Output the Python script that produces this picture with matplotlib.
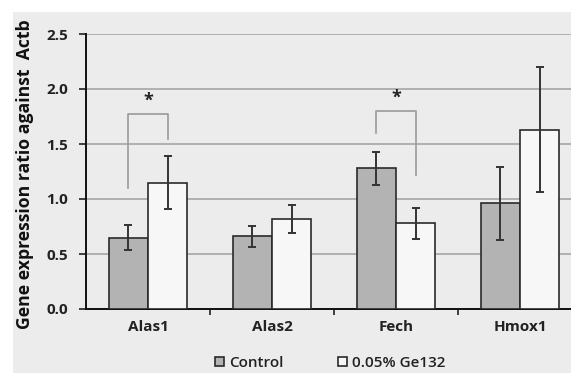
import matplotlib.pyplot as plt
import matplotlib.patches as mpatches
import numpy as np

plt.rcParams['font.family'] = ['Open Sans', 'DejaVu Sans']

genes = ['Alas1', 'Alas2', 'Fech', 'Hmox1']
control = [0.65, 0.66, 1.28, 0.96]
control_err = [0.11, 0.095, 0.15, 0.33]
ge132 = [1.15, 0.82, 0.78, 1.63]
ge132_err = [0.24, 0.125, 0.14, 0.57]

# significance brackets: (gene index, left leg bottom, top, right leg bottom)
brackets = [(0, 1.10, 1.77, 1.55), (2, 1.60, 1.80, 1.22)]

W, H = 571, 373
fig = plt.figure(figsize=(W / 100, H / 100), dpi=100)
fig.patches.append(mpatches.Rectangle((13 / W, 0), 1, 1 - 12 / H,
                                      transform=fig.transFigure,
                                      facecolor='#ececec', edgecolor='none', zorder=-10))

ax = fig.add_axes([86 / W, (H - 309) / H, 496 / W, 275 / H])
ax.set_facecolor('none')

x = np.arange(len(genes)) + 0.5
w = 0.315
ebar = dict(ecolor='#333333', elinewidth=1.4, capsize=3, capthick=1.4)
ax.bar(x - w / 2, control, w, yerr=control_err, color='#b3b3b3',
       edgecolor='#2a2a2a', linewidth=1.2, error_kw=ebar, label='Control', zorder=3)
ax.bar(x + w / 2, ge132, w, yerr=ge132_err, color='#f7f7f7',
       edgecolor='#2a2a2a', linewidth=1.2, error_kw=ebar, label='0.05% Ge132', zorder=3)

for i, lo_l, top, lo_r in brackets:
    xl, xr = x[i] - w / 2, x[i] + w / 2
    ax.plot([xl, xl, xr, xr], [lo_l, top, top, lo_r], color='#9a9a9a', lw=1.2, zorder=2)
    ax.text(x[i], top + 0.04, '*', ha='center', va='bottom', fontsize=13,
            fontweight='bold', color='#222222')

ax.set_xlim(0, 4)
ax.set_ylim(0, 2.5)
ax.set_yticks(np.arange(0, 2.51, 0.5))
ax.set_yticklabels([f'{v:.1f}' for v in np.arange(0, 2.51, 0.5)])
ax.yaxis.grid(True, color='#a6a6a6', lw=1.2, zorder=0)
ax.set_axisbelow(True)

ax.set_xticks([1, 2, 3])
ax.set_xticklabels([])
ax.tick_params(axis='x', direction='out', length=4, width=1.2, color='#222222')
ax.tick_params(axis='y', direction='out', length=5, width=1.2, color='#222222',
               labelsize=11, pad=8)
for lab in ax.get_yticklabels():
    lab.set_fontweight('bold')
    lab.set_color('#222222')
for i, g in enumerate(genes):
    ax.text(x[i], -0.10, g, ha='center', va='top', fontsize=11,
            fontweight='bold', color='#222222')

for s in ['top', 'right']:
    ax.spines[s].set_visible(False)
for s in ['left', 'bottom']:
    ax.spines[s].set_linewidth(1.4)
    ax.spines[s].set_color('#111111')

fig.text(25 / W, 1 - 174 / H, 'Gene expression ratio against  Actb', rotation=90,
         ha='center', va='center', fontsize=12.7, fontweight='bold', color='#111111')

fig.legend(loc='center', bbox_to_anchor=(330 / W, 1 - 363 / H), ncol=2, frameon=False,
           fontsize=11, handlelength=0.6, handleheight=0.6, handletextpad=0.3,
           columnspacing=3.6, labelcolor='#222222',
           prop={'weight': 'semibold', 'size': 11})

fig.savefig('out.png', dpi=100)
